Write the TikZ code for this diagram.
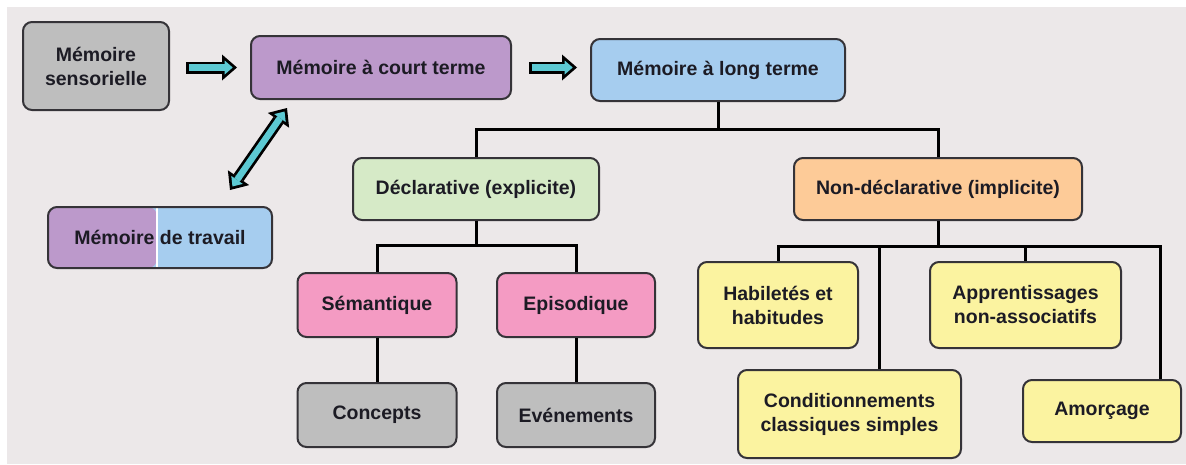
\documentclass[tikz,border=0pt]{standalone}
\usepackage{fontspec}
\setmainfont{Liberation Sans}
\usetikzlibrary{arrows.meta}

\definecolor{bggrey}{HTML}{ECE8E9}
\definecolor{boxline}{HTML}{353338}
\definecolor{textdark}{HTML}{1C1B24}
\definecolor{boxgrey}{HTML}{BEBEBE}
\definecolor{mempurple}{HTML}{BC99CB}
\definecolor{memblue}{HTML}{A6CDEF}
\definecolor{declgreen}{HTML}{D6EAC7}
\definecolor{ndorange}{HTML}{FDCB98}
\definecolor{sempink}{HTML}{F49BC3}
\definecolor{habyellow}{HTML}{FBF3A0}
\definecolor{arrowcyan}{HTML}{5CC9D3}

\tikzset{
  box/.style={draw=boxline,line width=2pt,rounded corners=9pt,align=center,inner sep=0pt,
    text=textdark,font=\bfseries\fontsize{19.5}{24}\selectfont},
  tree/.style={line width=3pt},
  outtip/.tip={Triangle[length=15pt,width=26pt,line width=0pt]},
  intip/.tip={Triangle[length=8pt,width=14pt,line width=0pt]},
  arrout/.style={line width=12pt,draw=black,-outtip},
  arrin/.style={line width=6.5pt,draw=arrowcyan,-intip},
}

\begin{document}
\begin{tikzpicture}[x=1pt,y=-1pt]
  \useasboundingbox (0,0) rectangle (1186,464);
  \fill[white] (0,0) rectangle (1186,464);
  \fill[bggrey] (7,7) rectangle (1186,464);

  \node[box,fill=boxgrey,minimum width=146pt,minimum height=88pt] (sens) at (96,66) {Mémoire\\sensorielle};
  \node[box,fill=mempurple,minimum width=260pt,minimum height=63pt] (court) at (381,67.5) {Mémoire à court terme};
  \node[box,fill=memblue,minimum width=254pt,minimum height=62pt] (long) at (718,70) {Mémoire à long terme};
  \node[box,minimum width=224pt,minimum height=61pt,path picture={
      \fill[memblue] (path picture bounding box.north west) rectangle (path picture bounding box.south east);
      \fill[mempurple] (path picture bounding box.north west) rectangle ([xshift=-3pt]path picture bounding box.south);
      \draw[white,line width=1.5pt] ([xshift=-3pt]path picture bounding box.north) -- ([xshift=-3pt]path picture bounding box.south);
    }] (travail) at (160,237.5) {Mémoire de travail};

  \node[box,fill=declgreen,minimum width=246pt,minimum height=62pt] (decl) at (476,189) {Déclarative (explicite)};
  \node[box,fill=ndorange,minimum width=288pt,minimum height=62pt] (nondecl) at (938,189) {Non-déclarative (implicite)};

  \node[box,fill=sempink,minimum width=159pt,minimum height=64pt] (sem) at (377,305) {Sémantique};
  \node[box,fill=sempink,minimum width=158pt,minimum height=64pt] (epi) at (576,305) {Episodique};
  \node[box,fill=boxgrey,minimum width=159pt,minimum height=64pt] (concepts) at (377,415) {Concepts};
  \node[box,fill=boxgrey,minimum width=158pt,minimum height=64pt] (even) at (576,415) {Evénements};

  \node[box,fill=habyellow,minimum width=160pt,minimum height=86pt] (habil) at (778,305) {Habiletés et\\habitudes};
  \node[box,fill=habyellow,minimum width=191pt,minimum height=86pt] (appr) at (1025.5,305) {Apprentissages\\non-associatifs};
  \node[box,fill=habyellow,minimum width=223pt,minimum height=88pt] (cond) at (849.5,414) {Conditionnements\\classiques simples};
  \node[box,fill=habyellow,minimum width=158pt,minimum height=62pt] (amor) at (1102,411) {Amorçage};

  \draw[tree] (long.south) -- ++(0,27) -| (decl.north);
  \draw[tree] (long.south) -- ++(0,27) -| (nondecl.north);
  \foreach \c in {sem,epi}
    \draw[tree] (decl.south) -- ++(0,24) -| (\c.north);
  \draw[tree] (sem.south) -- (concepts.north);
  \draw[tree] (epi.south) -- (even.north);
  \foreach \c/\dx in {habil/0,cond/30,appr/0,amor/58}
    \draw[tree] (nondecl.south) -- ++(0,25) -| ([xshift=\dx pt]\c.north);

  \draw[arrout,shorten <=16pt,shorten >=13pt] (sens.east |- court.west) -- (court.west);
  \draw[arrin,shorten <=18.8pt,shorten >=17.3pt] (sens.east |- court.west) -- (court.west);
  \draw[arrout,shorten <=17pt,shorten >=13pt] (court.east) -- (court.east -| long.west);
  \draw[arrin,shorten <=19.8pt,shorten >=17.3pt] (court.east) -- (court.east -| long.west);

  \coordinate (wlow) at (230,190);
  \coordinate (whigh) at (287,108);
  \draw[arrout,outtip-outtip] (wlow) -- (whigh);
  \draw[arrin,intip-intip,shorten <=4.3pt,shorten >=4.3pt] (wlow) -- (whigh);
\end{tikzpicture}
\end{document}
